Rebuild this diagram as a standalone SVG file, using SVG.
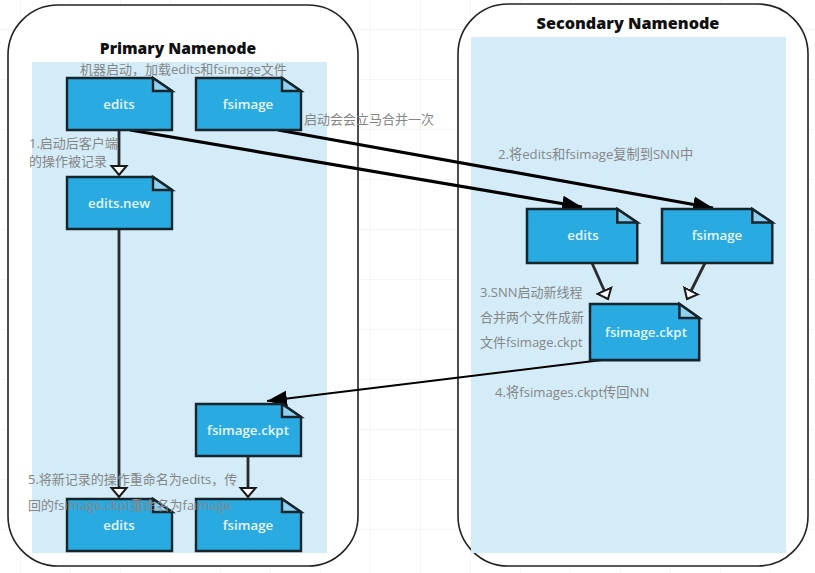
<svg xmlns="http://www.w3.org/2000/svg" width="815" height="573" viewBox="0 0 815 573">
<defs>
<pattern id="grid" x="20" y="29" width="50" height="50" patternUnits="userSpaceOnUse"><path d="M0 0H50M0 0V50" fill="none" stroke="#ececec" stroke-width="1"/></pattern>
<path id="doc" d="M0 0H86L105 13V52H0Z"/>
<path id="fold" d="M86 0L105 13H86Z"/>
<marker id="solid" markerUnits="userSpaceOnUse" markerWidth="22" markerHeight="18" refX="20" refY="9" orient="auto"><path d="M0 1L20 9L0 17Z" fill="#000"/></marker>
<marker id="hollow" markerUnits="userSpaceOnUse" markerWidth="14" markerHeight="20" refX="10" refY="10" orient="auto"><path d="M1 2.5L10 10L1 17.5Z" fill="#fff" stroke="#1a1a1a" stroke-width="2"/></marker>
</defs>
<style>
.panel{fill:#fff;stroke:#222;stroke-width:1.6}
.bg{fill:#d3ecf8}
.body{fill:#29abe2;stroke:#16242c;stroke-width:2.4}
.flap{fill:#8fd2f0;stroke:#16242c;stroke-width:2.4}
.name{font:600 13.3px "Open Sans","Liberation Sans",sans-serif;fill:#e6f6fd;text-anchor:middle}
.title{font:800 15.6px "Open Sans","Liberation Sans",sans-serif;fill:#111;text-anchor:middle}
.note{font:13px "Open Sans","Noto Sans CJK SC",sans-serif;fill:#868686}
.wide{font-size:13.2px}
.thick{fill:none;stroke:#000;stroke-width:3.2;marker-end:url(#solid)}
.thin{fill:none;stroke:#000;stroke-width:2;marker-end:url(#solid)}
.down{fill:none;stroke:#2a2a2a;stroke-width:2.8;marker-end:url(#hollow)}
</style>
<rect width="815" height="573" fill="#fff"/>
<rect width="815" height="573" fill="url(#grid)"/>
<g id="primary">
<rect class="panel" x="8" y="5" width="350" height="561" rx="50" ry="50"/>
<rect class="bg" x="32" y="62" width="295" height="491"/>
<text class="title" x="178" y="54">Primary Namenode</text>
</g>
<g id="secondary">
<rect class="panel" x="458" y="4" width="350" height="562" rx="50" ry="50"/>
<rect class="bg" x="471" y="37" width="315" height="516"/>
<text class="title" x="628" y="29" style="font-size:16.2px">Secondary Namenode</text>
</g>
<g id="connectors">
<path class="down" d="M119 130V175"/>
<path class="down" d="M119 230V497"/>
<path class="down" d="M248 456V497"/>
<path class="down" d="M592 263L608 299"/>
<path class="down" d="M705 263L687 299"/>
<path class="thick" d="M130 130L582 207"/>
<path class="thick" d="M278 130L713 208"/>
<path class="thin" d="M602 360L267 401"/>
</g>
<g id="pn-edits"><use href="#doc" class="body" x="67" y="78"/><use href="#fold" class="flap" x="67" y="78"/><text class="name" x="119" y="109">edits</text></g>
<g id="pn-fsimage"><use href="#doc" class="body" x="196" y="78"/><use href="#fold" class="flap" x="196" y="78"/><text class="name" x="248" y="109">fsimage</text></g>
<g id="pn-edits-new"><use href="#doc" class="body" x="67" y="177"/><use href="#fold" class="flap" x="67" y="177"/><text class="name" x="119" y="208">edits.new</text></g>
<g id="pn-ckpt"><use href="#doc" class="body" x="196" y="404"/><use href="#fold" class="flap" x="196" y="404"/><text class="name" x="248" y="435">fsimage.ckpt</text></g>
<g id="pn-edits2"><use href="#doc" class="body" x="67" y="499"/><use href="#fold" class="flap" x="67" y="499"/><text class="name" x="119" y="530">edits</text></g>
<g id="pn-fsimage2"><use href="#doc" class="body" x="196" y="499"/><use href="#fold" class="flap" x="196" y="499"/><text class="name" x="248" y="530">fsimage</text></g>
<g id="snn-edits"><use href="#doc" class="body" transform="translate(527 209) scale(1.05 1.04)"/><use href="#fold" class="flap" transform="translate(527 209) scale(1.05 1.04)"/><text class="name" x="583" y="240">edits</text></g>
<g id="snn-fsimage"><use href="#doc" class="body" transform="translate(662 209) scale(1.05 1.04)"/><use href="#fold" class="flap" transform="translate(662 209) scale(1.05 1.04)"/><text class="name" x="717" y="240">fsimage</text></g>
<g id="snn-ckpt"><use href="#doc" class="body" transform="translate(590 304) scale(1.04 1.08)"/><use href="#fold" class="flap" transform="translate(590 304) scale(1.04 1.08)"/><text class="name" x="646" y="337">fsimage.ckpt</text></g>
<g id="notes">
<text class="note" x="80" y="74">机器启动，加载edits和fsimage文件</text>
<text class="note" x="304" y="124">启动会会立马合并一次</text>
<text class="note" x="29" y="148">1.启动后客户端</text>
<text class="note" x="29" y="166">的操作被记录</text>
<text class="note wide" x="498" y="159">2.将edits和fsimage复制到SNN中</text>
<text class="note" x="480" y="297">3.SNN启动新线程</text>
<text class="note" x="480" y="322">合并两个文件成新</text>
<text class="note" x="480" y="347">文件fsimage.ckpt</text>
<text class="note wide" x="495" y="397">4.将fsimages.ckpt传回NN</text>
<text class="note" x="28" y="484">5.将新记录的操作重命名为edits，传</text>
<text class="note" x="28" y="510">回的fsimage.ckpt重命名为faimage</text>
</g>
</svg>
